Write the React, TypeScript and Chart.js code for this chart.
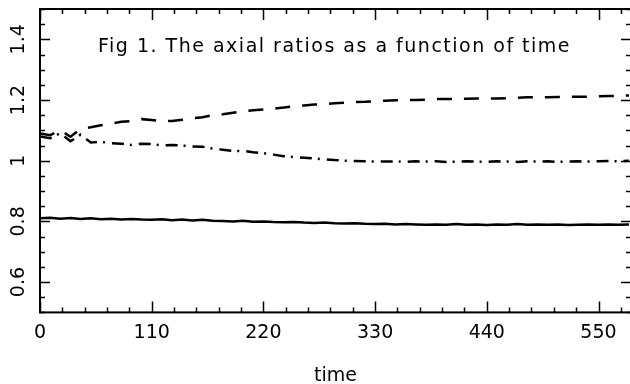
import React, { useEffect, useRef } from "react";
import { Chart, registerables } from "chart.js";

Chart.register(...registerables);

const times = [
  0, 10, 20, 30, 40, 50, 60, 70, 80, 90, 100, 110, 120, 130, 140, 150, 160, 170, 180, 190,
  200, 210, 220, 230, 240, 250, 260, 270, 280, 290, 300, 310, 320, 330, 340, 350, 360, 370, 380, 390,
  400, 410, 420, 430, 440, 450, 460, 470, 480, 490, 500, 510, 520, 530, 540, 550, 560, 570, 580,
];

const solidRatio = [
  0.810, 0.812, 0.809, 0.811, 0.808, 0.810, 0.807, 0.809, 0.806, 0.808, 0.806, 0.805, 0.807, 0.804, 0.806, 0.803, 0.805, 0.802, 0.801, 0.800,
  0.802, 0.799, 0.800, 0.798, 0.797, 0.798, 0.796, 0.795, 0.796, 0.794, 0.793, 0.794, 0.792, 0.791, 0.792, 0.790, 0.791, 0.790, 0.789, 0.790,
  0.789, 0.791, 0.789, 0.790, 0.788, 0.790, 0.789, 0.791, 0.789, 0.790, 0.789, 0.790, 0.788, 0.789, 0.790, 0.789, 0.790, 0.789, 0.790,
];

const dashedRatio = [
  1.090, 1.084, 1.101, 1.079, 1.104, 1.110, 1.117, 1.122, 1.128, 1.131, 1.137, 1.134, 1.130, 1.131, 1.135, 1.140, 1.143, 1.150, 1.153, 1.158,
  1.163, 1.166, 1.169, 1.171, 1.175, 1.180, 1.182, 1.185, 1.187, 1.189, 1.191, 1.193, 1.194, 1.196, 1.198, 1.199, 1.200, 1.200, 1.201, 1.203,
  1.203, 1.204, 1.204, 1.205, 1.205, 1.205, 1.206, 1.207, 1.209, 1.209, 1.209, 1.210, 1.210, 1.211, 1.211, 1.212, 1.213, 1.214, 1.215,
];

const dashDotRatio = [
  1.080, 1.074, 1.091, 1.064, 1.086, 1.060, 1.062, 1.058, 1.056, 1.052, 1.056, 1.055, 1.050, 1.052, 1.050, 1.047, 1.046, 1.040, 1.036, 1.032,
  1.032, 1.028, 1.025, 1.020, 1.015, 1.012, 1.010, 1.007, 1.005, 1.002, 1.000, 0.999, 0.998, 0.997, 0.997, 0.998, 0.996, 0.998, 0.997, 0.998,
  0.996, 0.997, 0.998, 0.997, 0.996, 0.998, 0.997, 0.996, 0.998, 0.997, 0.998, 0.996, 0.997, 0.998, 0.997, 0.998, 0.999, 0.998, 1.000,
];

const xTickValues = [0, 110, 220, 330, 440, 550];
const xMinorStep = 22;
const yTickValues = [0.6, 0.8, 1, 1.2, 1.4];
const yMinorStep = 0.05;
const titleText = "Fig 1. The axial ratios as a function of time";
const xAxisTitle = "time";

const FONT = "'DejaVu Sans', sans-serif";

const framePlugin = {
  id: "frame",
  afterDraw(chart: any) {
    const { ctx, chartArea, scales } = chart;
    const { left, right, top, bottom } = chartArea;
    const xs = scales.x;
    const ys = scales.y;
    ctx.save();
    ctx.strokeStyle = "#000";
    ctx.lineWidth = 2;
    ctx.strokeRect(left, top, right - left, bottom - top);
    ctx.lineWidth = 1.5;
    for (let v = 0; v <= xs.max + 0.001; v += xMinorStep) {
      const px = Math.round(xs.getPixelForValue(v)) + 0.5;
      const major = Math.abs(v % 110) < 0.001;
      const len = major ? 11 : 5;
      ctx.beginPath();
      ctx.moveTo(px, bottom);
      ctx.lineTo(px, bottom - len);
      ctx.moveTo(px, top);
      ctx.lineTo(px, top + len);
      ctx.stroke();
    }
    for (let i = 0; ; i++) {
      const v = ys.min + i * yMinorStep;
      if (v > ys.max + 1e-6) break;
      const py = Math.round(ys.getPixelForValue(v)) + 0.5;
      const r = (v - 0.6) / 0.2;
      const major = Math.abs(r - Math.round(r)) < 0.001;
      const len = major ? 10 : 5;
      ctx.beginPath();
      ctx.moveTo(left, py);
      ctx.lineTo(left + len, py);
      ctx.moveTo(right, py);
      ctx.lineTo(right - len, py);
      ctx.stroke();
    }
    ctx.fillStyle = "#000";
    ctx.font = `19px ${FONT}`;
    ctx.textAlign = "center";
    ctx.textBaseline = "middle";
    for (const v of yTickValues) {
      const py = ys.getPixelForValue(v);
      ctx.save();
      ctx.translate(19, py);
      ctx.rotate(-Math.PI / 2);
      ctx.fillText(String(v), 0, 0);
      ctx.restore();
    }
    ctx.font = `19px ${FONT}`;
    ctx.textAlign = "left";
    ctx.textBaseline = "alphabetic";
    (ctx as any).letterSpacing = "1.5px";
    ctx.fillText(titleText, 98, 52);
    ctx.restore();
  },
};

export default function App() {
  const ref = useRef<HTMLCanvasElement | null>(null);
  useEffect(() => {
    if (!ref.current) return;
    const chart = new Chart(ref.current, {
      type: "line",
      data: {
        datasets: [
          {
            data: times.map((t, i) => ({ x: t, y: solidRatio[i] })),
            borderColor: "#000",
            borderWidth: 2.5,
            pointRadius: 0,
            tension: 0,
          },
          {
            data: times.map((t, i) => ({ x: t, y: dashedRatio[i] })),
            borderColor: "#000",
            borderWidth: 2.5,
            borderDash: [15, 12],
            pointRadius: 0,
            tension: 0,
          },
          {
            data: times.map((t, i) => ({ x: t, y: dashDotRatio[i] })),
            borderColor: "#000",
            borderWidth: 2.5,
            borderDash: [12, 6, 2, 7],
            pointRadius: 0,
            tension: 0,
          },
        ],
      },
      options: {
        animation: false,
        responsive: true,
        maintainAspectRatio: false,
        layout: { padding: { top: 9, right: 9, left: 0, bottom: 0 } },
        plugins: { legend: { display: false }, tooltip: { enabled: false }, title: { display: false } },
        scales: {
          x: {
            type: "linear",
            min: 0,
            max: 582,
            grid: { display: false },
            border: { display: false },
            afterBuildTicks: (scale: any) => {
              scale.ticks = xTickValues.map((v) => ({ value: v }));
            },
            ticks: {
              autoSkip: false,
              maxRotation: 0,
              minRotation: 0,
              color: "#000",
              padding: 1,
              font: { family: FONT, size: 19 },
            },
            title: {
              display: true,
              text: xAxisTitle,
              color: "#000",
              font: { family: FONT, size: 19 },
              padding: { top: 19, bottom: 0 },
            },
          },
          y: {
            min: 0.5,
            max: 1.5,
            grid: { display: false },
            border: { display: false },
            ticks: { display: false },
            afterFit: (scale: any) => {
              scale.width = 40;
            },
          },
        },
      },
      plugins: [framePlugin],
    });
    return () => chart.destroy();
  }, []);
  return (
    <div style={{ position: "fixed", left: 0, top: 0, width: 630, height: 384, overflow: "hidden", background: "#fff" }}>
      <div style={{ position: "absolute", left: 0, top: 0, width: 640, height: 387 }}>
        <canvas ref={ref} />
      </div>
    </div>
  );
}
